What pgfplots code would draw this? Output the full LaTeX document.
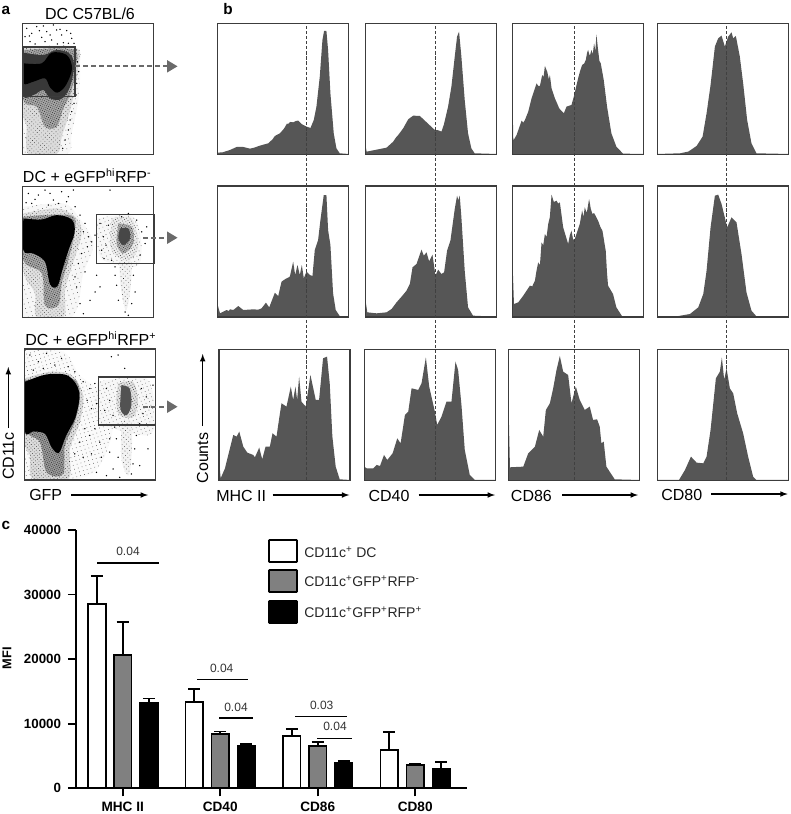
\documentclass[border=0pt]{standalone}
\usepackage{fontspec}
\setmainfont{Liberation Sans}
\usepackage{pgfplots}
\pgfplotsset{compat=1.18}
\usetikzlibrary{patterns.meta}
\definecolor{histc}{HTML}{565656}
\definecolor{framec}{HTML}{3C3C3C}
\definecolor{arrowc}{HTML}{6A6A6A}
\definecolor{barg}{HTML}{808080}
\newcommand\fs[1]{\fontsize{#1}{#1}\selectfont}
\pgfplotsset{
  panel/.style={scale only axis,width=98.25pt,height=98.25pt,ticks=none,
    axis line style={draw=framec,line width=0.85pt},anchor=north west,axis on top,clip=true},
  hist/.style={panel,xmin=0,xmax=394,ymin=0,ymax=393},
}
\newcommand\Hist[3]{%
\begin{axis}[hist,at={({#1*0.75pt},{-#2*0.75pt})}]
\addplot[fill=histc,draw=none] coordinates {#3} \closedcycle;
\end{axis}}
\tikzset{
 solid blob/.style={fill=#1,draw=none,smooth,tension=0.55},
 blob/.style n args={4}{fill=#1,draw=none,smooth,tension=0.55,
   postaction={pattern={Dots[distance=#2,angle=#3,radius=#4]},pattern color=black!85}},
 dots/.style={only marks,mark=*,mark size=0.28pt,mark options={draw=none,fill=black!70}}}
\begin{document}
\begin{tikzpicture}
\useasboundingbox (0,0) rectangle (593.25pt,-610.5pt);
% ---------- scatter 1
\begin{axis}[panel,at={({22.7*0.75pt},{-23.3*0.75pt})},xmin=68,xmax=461,ymin=70,ymax=463,y dir=reverse]
\addplot[blob={black!3}{3.4pt}{17}{0.28pt}] coordinates {(70,140)(225,140)(240,200)(235,300)(215,400)(200,462)(70,462)(70,140)};
\addplot[blob={black!14}{2.2pt}{41}{0.3pt}] coordinates {(70,145)(225,143)(235,200)(220,290)(205,350)(185,410)(170,462)(85,462)(80,380)(70,340)(70,145)};
\addplot[blob={black!35}{1.5pt}{68}{0.36pt}] coordinates {(70,150)(218,148)(228,200)(212,280)(190,325)(170,380)(135,380)(110,320)(70,300)(70,150)};
\addplot[solid blob=black!78] coordinates {(70,158)(130,165)(170,150)(210,162)(222,200)(208,265)(182,298)(150,295)(130,270)(100,285)(70,285)(70,158)};
\addplot[solid blob=black] coordinates {(70,190)(125,190)(155,158)(200,165)(216,205)(198,255)(172,278)(150,262)(135,235)(100,245)(70,250)(70,190)};
\addplot[dots] coordinates {(80,85)(95,100)(110,80)(125,112)(140,95)(155,120)(170,90)(185,105)(200,92)(215,115)(222,130)(90,125)(105,132)(160,75)(190,128)(75,110)(135,125)(228,150)(232,185)(236,215)(230,250)(228,285)(222,310)(215,335)(210,360)(205,390)(195,420)(188,445)(180,88)(118,92)(150,105)(205,130)(88,108)(172,132)(212,100)(130,78)};
\end{axis}
% ---------- scatter 2
\begin{axis}[panel,at={({22.7*0.75pt},{-186.7*0.75pt})},xmin=68,xmax=461,ymin=80,ymax=472,y dir=reverse]
\addplot[blob={black!3}{3.4pt}{17}{0.28pt}] coordinates {(70,140)(190,130)(235,170)(280,250)(250,340)(215,470)(70,470)(70,140)};
\addplot[blob={black!3}{3pt}{23}{0.28pt}] coordinates {(292,175)(400,170)(425,270)(405,320)(310,300)(292,250)(292,175)};
\addplot[blob={black!5}{2.4pt}{50}{0.3pt}] coordinates {(358,300)(392,300)(392,380)(378,450)(362,380)(358,300)};
\addplot[blob={black!12}{2pt}{41}{0.3pt}] coordinates {(70,160)(170,145)(225,170)(245,220)(215,320)(195,390)(190,470)(110,470)(105,400)(70,330)(70,160)};
\addplot[blob={black!35}{1.5pt}{68}{0.36pt}] coordinates {(70,170)(210,165)(225,210)(205,300)(185,370)(175,435)(135,435)(125,340)(70,300)(70,170)};
\addplot[solid blob=black] coordinates {(70,175)(125,178)(170,165)(215,178)(224,215)(207,265)(188,325)(172,378)(150,372)(135,305)(100,280)(70,270)(70,175)};
\addplot[blob={black!8}{1.9pt}{33}{0.32pt}] coordinates {(335,175)(395,175)(415,260)(385,300)(340,280)(330,240)(335,175)};
\addplot[blob={black!30}{1.4pt}{62}{0.36pt}] coordinates {(355,190)(395,200)(400,250)(370,280)(350,250)(355,190)};
\addplot[solid blob=black!72] coordinates {(360,205)(385,205)(390,235)(370,255)(355,235)(360,205)};
\addplot[dots] coordinates {(85,100)(115,105)(135,90)(160,120)(185,95)(205,110)(220,90)(95,130)(145,135)(175,130)(225,140)(240,165)(255,190)(250,215)(265,230)(275,245)(285,225)(262,260)(245,280)(235,310)(255,335)(225,350)(230,380)(300,190)(310,230)(305,270)(325,195)(318,255)(312,295)(335,300)(345,320)(365,170)(385,160)(410,180)(425,215)(435,250)(420,285)(410,310)(400,345)(405,395)(395,430)(355,420)(350,375)(345,345)(375,455)(385,465)(300,380)(285,395)(270,420)(290,345)(330,90)(240,430)(250,460)(440,200)(150,100)(200,125)(105,118)(78,128)};
\end{axis}
% ---------- scatter 3
\begin{axis}[panel,at={({24.3*0.75pt},{-349*0.75pt})},xmin=73,xmax=467,ymin=72,ymax=463,y dir=reverse]
\addplot[blob={black!2}{3pt}{17}{0.28pt}] coordinates {(75,75)(190,80)(240,150)(300,200)(340,300)(300,420)(230,460)(75,460)(75,75)};
\addplot[blob={black!3}{2.8pt}{23}{0.28pt}] coordinates {(295,170)(440,160)(465,280)(440,330)(300,290)(290,200)(295,170)};
\addplot[blob={black!5}{2.4pt}{50}{0.3pt}] coordinates {(365,290)(395,290)(395,400)(385,450)(365,400)(365,290)};
\addplot[blob={black!14}{1.9pt}{41}{0.32pt}] coordinates {(75,160)(150,140)(215,150)(250,210)(240,290)(210,370)(205,460)(100,460)(90,390)(75,350)(75,160)};
\addplot[blob={black!40}{1.4pt}{68}{0.36pt}] coordinates {(75,165)(215,160)(240,210)(225,290)(195,360)(190,445)(140,440)(120,350)(75,310)(75,165)};
\addplot[solid blob=black] coordinates {(75,170)(140,148)(205,152)(238,200)(228,272)(198,332)(177,382)(155,365)(135,325)(100,318)(75,318)(75,170)};
\addplot[blob={black!12}{1.8pt}{33}{0.32pt}] coordinates {(355,175)(400,170)(415,230)(400,275)(360,270)(350,230)(355,175)};
\addplot[solid blob=black!68] coordinates {(365,180)(390,190)(395,240)(380,270)(362,250)(365,180)};
\addplot[dots] coordinates {(90,90)(115,110)(140,85)(165,120)(185,100)(205,125)(225,140)(100,135)(130,130)(250,170)(270,190)(285,175)(262,225)(275,250)(290,235)(255,310)(270,330)(285,310)(300,350)(240,350)(225,385)(250,395)(275,385)(305,395)(330,340)(345,305)(335,95)(355,90)(320,190)(330,225)(315,255)(340,270)(425,190)(440,215)(450,245)(430,265)(420,295)(410,330)(405,370)(400,415)(395,445)(350,340)(355,395)(340,430)(360,455)(420,420)(445,370)(290,440)(320,450)(330,380)(375,130)(460,180)};
\end{axis}
% ---------- histograms row 1
\Hist{217.7}{23.3}{(0,5)(15,6)(37,13)(57,22)(77,22)(85,20)(97,17)(110,20)(127,26)(152,33)(165,45)(172,55)(187,63)(197,74)(202,81)(208,92)(212,91)(218,97)(227,96)(235,100)(242,101)(252,91)(267,83)(279,79)(289,103)(297,143)(307,233)(315,343)(320,370)(327,370)(332,313)(339,183)(349,63)(357,18)(367,3)(394,1)}
\Hist{365.3}{23.3}{(0,28)(4,8)(34,14)(64,20)(84,38)(92,50)(99,58)(114,78)(129,105)(144,116)(164,115)(179,101)(194,87)(209,73)(220,72)(229,68)(236,88)(249,143)(259,203)(269,293)(276,353)(282,368)(289,293)(299,163)(309,63)(319,18)(329,3)(394,1)}
\Hist{512.3}{23.3}{(0,195)(3,41)(13,58)(28,101)(33,95)(38,103)(48,128)(58,168)(73,213)(78,205)(83,205)(90,238)(94,232)(98,265)(105,248)(110,225)(113,238)(118,198)(128,168)(136,150)(141,138)(148,130)(155,123)(163,143)(178,148)(185,173)(198,228)(204,250)(210,268)(216,272)(221,283)(225,305)(228,313)(233,295)(238,313)(242,300)(246,333)(250,310)(253,360)(258,313)(262,280)(266,273)(275,223)(285,143)(298,63)(313,23)(333,2)(394,1)}
\Hist{657.7}{23.3}{(0,1)(67,3)(92,8)(117,25)(135,53)(147,123)(159,208)(172,323)(182,348)(192,356)(202,323)(212,353)(222,366)(227,348)(235,355)(247,293)(257,213)(269,103)(282,33)(297,3)(394,1)}
% ---------- row 2
\Hist{217.7}{186}{(0,36)(7,11)(27,21)(33,18)(37,23)(47,21)(62,33)(77,21)(107,23)(122,22)(132,26)(145,43)(155,29)(172,73)(182,63)(192,106)(202,113)(217,121)(227,166)(233,126)(240,156)(247,126)(253,156)(259,116)(267,136)(277,126)(285,123)(292,201)(302,231)(309,291)(319,366)(327,366)(332,261)(339,216)(347,71)(355,21)(367,3)(394,1)}
\Hist{365.3}{186}{(0,54)(6,14)(34,11)(64,14)(79,24)(94,44)(109,61)(124,79)(134,99)(142,149)(154,159)(169,202)(176,184)(184,194)(192,167)(202,187)(211,124)(219,142)(229,129)(237,134)(246,199)(256,229)(269,324)(276,364)(280,350)(284,364)(289,299)(299,139)(309,29)(324,4)(394,1)}
\Hist{512.3}{186}{(0,184)(5,39)(18,44)(33,64)(53,94)(60,92)(68,109)(73,140)(78,164)(83,155)(88,224)(93,215)(98,249)(103,240)(108,279)(113,300)(118,367)(125,345)(133,349)(138,340)(143,344)(153,269)(168,219)(173,245)(178,259)(183,232)(188,234)(203,279)(210,320)(214,300)(218,329)(224,312)(231,354)(236,325)(241,309)(246,312)(258,289)(265,270)(271,259)(281,199)(285,130)(288,94)(303,69)(313,29)(331,1)(394,1)}
\Hist{657.7}{186}{(0,1)(57,2)(97,9)(122,29)(137,69)(147,139)(159,269)(172,364)(182,367)(192,339)(209,269)(222,299)(237,284)(252,189)(267,74)(282,19)(297,2)(394,1)}
% ---------- row 3
\Hist{219}{349.3}{(0,63)(5,6)(18,36)(28,76)(43,136)(53,131)(61,146)(73,101)(85,83)(103,76)(108,69)(121,98)(130,63)(140,101)(153,101)(161,141)(173,131)(181,186)(188,231)(203,221)(216,281)(223,241)(230,281)(235,241)(241,311)(248,236)(261,221)(275,316)(291,241)(301,241)(313,366)(325,371)(333,291)(341,131)(351,41)(363,3)(394,1)}
\Hist{364.7}{349.3}{(0,40)(6,36)(26,36)(36,46)(46,43)(58,76)(68,61)(84,81)(98,126)(108,111)(121,196)(131,206)(141,276)(161,271)(171,291)(184,369)(194,281)(211,206)(218,166)(231,191)(246,236)(261,236)(273,356)(281,331)(291,226)(301,91)(316,16)(331,1)(394,1)}
\Hist{508.3}{349.3}{(0,256)(5,39)(45,41)(60,81)(80,101)(93,151)(105,131)(113,211)(125,231)(135,276)(145,331)(155,373)(165,326)(180,316)(190,231)(203,281)(215,241)(230,211)(245,221)(255,181)(267,183)(275,161)(280,111)(287,116)(295,41)(320,3)(393,1)}
\Hist{657.7}{349.3}{(0,1)(64,1)(82,31)(100,71)(117,53)(137,51)(147,71)(159,151)(175,306)(187,326)(193,369)(200,301)(207,336)(217,276)(227,261)(239,201)(257,141)(272,71)(287,11)(297,1)(394,1)}
% ---------- bar chart
\begin{axis}[scale only axis,anchor=south west,at={({76*0.75pt},{-788.3*0.75pt})},
  width=293pt,height=193.7pt,axis lines=left,axis line style={-,line width=1.3pt},
  xmin=-0.479,xmax=3.528,ymin=0,ymax=40000,
  xtick={0,1,2,3},xticklabels={MHC II,CD40,CD86,CD80},
  ytick={0,10000,20000,30000,40000},
  tick style={line width=1.3pt,black},major tick length=6pt,
  tick align=outside,
  /pgf/number format/assume math mode=true,
  /pgf/number format/1000 sep={},scaled y ticks=false,
  yticklabel style={font=\bfseries\fs{10},inner sep=0pt,xshift=-5pt},
  xticklabel style={font=\bfseries\fs{10.2},inner sep=0pt,yshift=-4pt},
  ybar,bar width=13.2pt,
  error bars/error bar style={line width=1.3pt,black},
  error bars/error mark options={rotate=90,mark size=4.5pt,line width=1.3pt,black}]
\addplot[draw=black,line width=1.3pt,fill=white,bar shift=-19.4pt,
  error bars/.cd,y dir=plus,y explicit] coordinates {(0,28500)+-(0,4400)(1,13400)+-(0,2000)(2,8100)+-(0,1040)(3,5935)+-(0,2735)};
\addplot[draw=black,line width=1.3pt,fill=barg,bar shift=0pt,
  error bars/.cd,y dir=plus,y explicit] coordinates {(0,20600)+-(0,5200)(1,8400)+-(0,400)(2,6550)+-(0,675)(3,3610)+-(0,210)};
\addplot[draw=black,line width=1.3pt,fill=black,bar shift=19.6pt,
  error bars/.cd,y dir=plus,y explicit] coordinates {(0,13300)+-(0,600)(1,6600)+-(0,300)(2,3870)+-(0,360)(3,3045)+-(0,1085)};
\end{axis}
\begin{scope}[x=0.75pt,y=-0.75pt]
% gates
\draw[framec,line width=0.8pt] (23,47) rectangle (75,96.7);
\draw[framec,line width=0.8pt] (96.7,214.3) rectangle (154,263.7);
\draw[framec,line width=0.8pt] (98.3,377) rectangle (155.7,425);
% gate arrows
\draw[arrowc,line width=1.3pt,dash pattern=on 4pt off 2pt] (75,66.3)--(167,66.3);
\fill[arrowc] (167,60)--(177.5,66.3)--(167,72.6)--cycle;
\draw[arrowc,line width=1.3pt,dash pattern=on 4pt off 2pt] (143,237.7)--(167,237.7);
\fill[arrowc] (167,231.4)--(177.5,237.7)--(167,244)--cycle;
\draw[arrowc,line width=1.3pt,dash pattern=on 4pt off 2pt] (143,406.7)--(167,406.7);
\fill[arrowc] (167,400.4)--(177.5,406.7)--(167,413)--cycle;
% vertical dashed reference lines
\foreach \xx in {306.3,435.3,574.3,726.7}
  \draw[black!75,line width=0.8pt,dash pattern=on 2.4pt off 1.4pt] (\xx,26)--(\xx,480);
% panel titles
\node[font=\bfseries\fs{11.5},inner sep=0] at (6,10) {a};
\node[font=\bfseries\fs{11.5},inner sep=0] at (228,9) {b};
\node[font=\bfseries\fs{11.5},inner sep=0] at (6,525) {c};
\node[font=\fs{12},inner sep=0] at (90,13.5) {DC C57BL/6};
\node[font=\fs{12},inner sep=0,anchor=west] at (22.7,175.5) {DC + eGFP\textsuperscript{hi}RFP\textsuperscript{-}};
\node[font=\fs{12},inner sep=0,anchor=west] at (25,338.5) {DC + eGFP\textsuperscript{hi}RFP\textsuperscript{+}};
% axis captions
\node[font=\fs{12},inner sep=0,rotate=90] at (8.3,456) {CD11c};
\draw[-latex,line width=0.9pt] (8.3,428)--(8.3,367);
\node[font=\fs{12},inner sep=0,anchor=west] at (29,495) {GFP};
\draw[-latex,line width=0.9pt] (71,495)--(148,495);
\node[font=\fs{12},inner sep=0,rotate=90] at (202.7,458) {Counts};
\draw[-latex,line width=0.9pt] (202.7,426)--(202.7,354);
\node[font=\fs{12},inner sep=0,anchor=west] at (216,495.5) {MHC II};
\draw[-latex,line width=0.9pt] (272.7,495)--(349.3,495);
\node[font=\fs{12},inner sep=0,anchor=west] at (368.3,495.5) {CD40};
\draw[-latex,line width=0.9pt] (418.7,495)--(495,495);
\node[font=\fs{12},inner sep=0,anchor=west] at (510.7,495.5) {CD86};
\draw[-latex,line width=0.9pt] (562,495)--(638,495);
\node[font=\fs{12},inner sep=0,anchor=west] at (661,495) {CD80};
\draw[-latex,line width=0.9pt] (711.3,494)--(787.7,494);
% bar chart annotations
\node[font=\bfseries\fs{9.6},inner sep=0,rotate=90] at (7,658) {MFI};
\foreach \xa/\xb/\yy/\lx/\ly/\t in {97.3/159/563/128/551/0.04,197.3/248.3/679.3/221.7/668.7/0.04,219/253.3/718/236/707.7/0.04,295.3/346.7/716.7/321.7/705/0.03,317.3/351.7/738.3/335/726.7/0.04}{
  \draw[black,line width=0.85pt] (\xa,\yy)--(\xb,\yy);
  \node[font=\fs{9},inner sep=0,text=black!80] at (\lx,\ly) {\t};
}
% legend
\draw[black,line width=1.4pt,fill=white,rounded corners=0.5pt] (269,540) rectangle (297,562);
\draw[black,line width=1.4pt,fill=barg,rounded corners=0.5pt] (269,570) rectangle (297,592);
\draw[black,line width=1.4pt,fill=black,rounded corners=0.5pt] (269,601) rectangle (297,623);
\node[font=\fs{10.5},inner sep=0,anchor=west,text=black!85] at (304,552) {CD11c\textsuperscript{+} DC};
\node[font=\fs{10.5},inner sep=0,anchor=west,text=black!85] at (304,581) {CD11c\textsuperscript{+}GFP\textsuperscript{+}RFP\textsuperscript{-}};
\node[font=\fs{10.5},inner sep=0,anchor=west,text=black!85] at (304,612) {CD11c\textsuperscript{+}GFP\textsuperscript{+}RFP\textsuperscript{+}};
\end{scope}
\end{tikzpicture}
\end{document}
